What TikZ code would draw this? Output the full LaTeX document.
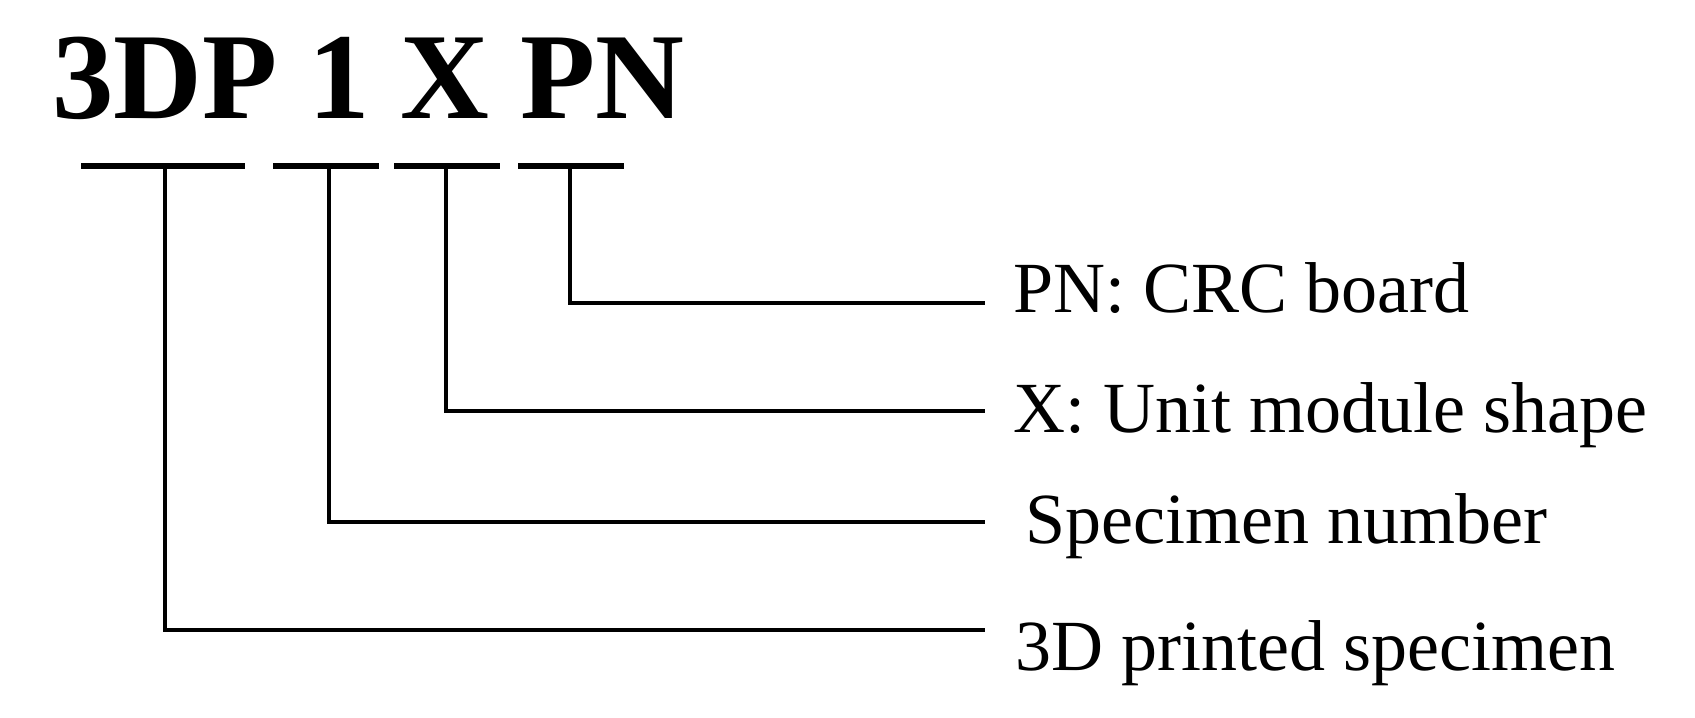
\documentclass[tikz,border=0pt]{standalone}
\usepackage{fontspec}
\setmainfont{Liberation Serif}
\begin{document}
\begin{tikzpicture}[x=0.5pt,y=-0.5pt]
\useasboundingbox (0,0) rectangle (1695,717);
\tikzset{
  bar/.style={line width=3.2pt},
  lead/.style={line width=2.4pt},
  lbl/.style={anchor=base west, inner sep=0pt, font=\fontsize{36}{40}\selectfont},
  ttl/.style={anchor=base west, inner sep=0pt, font=\fontsize{61.5}{70}\selectfont\bfseries}
}
% title
\node[ttl] (title) at (52,119) {3DP 1 X PN};
% underline bars
\coordinate (b1l) at (81,166);  \coordinate (b1r) at (245,166);
\coordinate (b2l) at (273,166); \coordinate (b2r) at (379,166);
\coordinate (b3l) at (394,166); \coordinate (b3r) at (500,166);
\coordinate (b4l) at (518,166); \coordinate (b4r) at (624,166);
\draw[bar] (b1l) -- (b1r);
\draw[bar] (b2l) -- (b2r);
\draw[bar] (b3l) -- (b3r);
\draw[bar] (b4l) -- (b4r);
% stems
\coordinate (v1) at (165,166);
\coordinate (v2) at (329,166);
\coordinate (v3) at (446,166);
\coordinate (v4) at (570,166);
% leader ends
\coordinate (e4) at (985,303);
\coordinate (e3) at (985,411);
\coordinate (e2) at (985,522);
\coordinate (e1) at (985,630);
% labels
\node[lbl] (l4) at (1013,312) {PN: CRC board};
\node[lbl] (l3) at (1013,432) {X: Unit module shape};
\node[lbl] (l2) at (1025,543) {Specimen number};
\node[lbl] (l1) at (1015,670) {3D printed specimen};
% leaders
\draw[lead] (v4) |- (e4);
\draw[lead] (v3) |- (e3);
\draw[lead] (v2) |- (e2);
\draw[lead] (v1) |- (e1);
\end{tikzpicture}
\end{document}
